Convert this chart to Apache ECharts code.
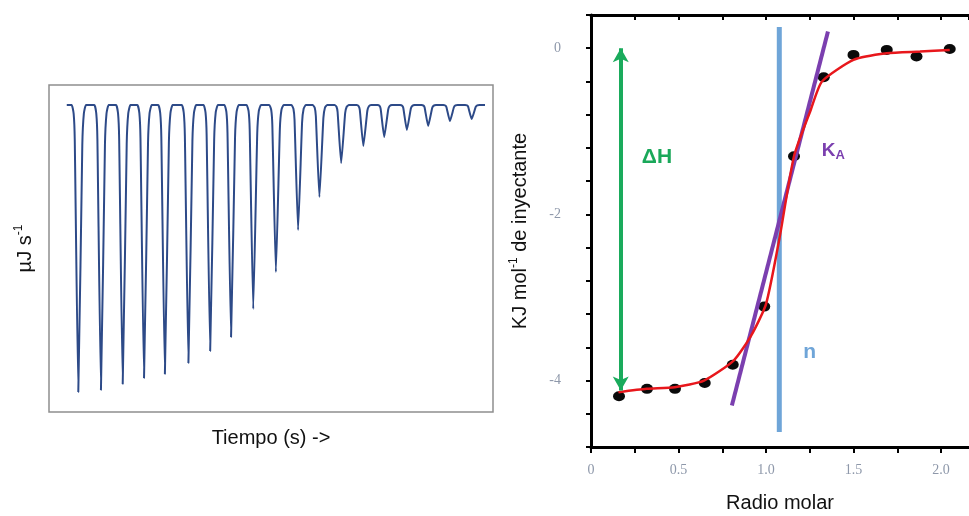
<!DOCTYPE html>
<html>
<head>
<meta charset="utf-8">
<script src="https://cdn.jsdelivr.net/npm/echarts@6/dist/echarts.min.js"></script>
<style>html,body{margin:0;padding:0;background:#fff}#c{width:969px;height:516px}</style>
</head>
<body>
<div id="c"></div>
<script>
// ---- Left panel: thermogram (arbitrary time units, µJ/s arbitrary) ----
var peakTimes  = [6.6, 11.7, 16.6, 21.4, 26.1, 31.4, 36.3, 41.0, 46.0, 51.1, 56.1, 60.9, 65.8, 70.8, 75.5, 80.6, 85.4, 90.3, 95.2];
var peakDepths = [-2.87, -2.85, -2.79, -2.73, -2.69, -2.58, -2.46, -2.32, -2.04, -1.67, -1.25, -0.92, -0.58, -0.41, -0.32, -0.25, -0.21, -0.16, -0.14];
var traceStart = 4.0, traceEnd = 98.2;

// ---- Right panel: binding isotherm ----
var molarRatio = [0.16, 0.32, 0.48, 0.65, 0.81, 0.99, 1.16, 1.33, 1.50, 1.69, 1.86, 2.05];
var heatPoints = [-4.19, -4.10, -4.10, -4.03, -3.81, -3.11, -1.30, -0.35, -0.08, -0.02, -0.10, -0.01];
var fitX = [0.157, 0.318, 0.479, 0.646, 0.815, 0.915, 1.0, 1.076, 1.16, 1.256, 1.32, 1.50, 1.69, 1.88, 2.05];
var fitY = [-4.14, -4.10, -4.08, -4.00, -3.76, -3.46, -3.08, -2.30, -1.30, -0.74, -0.40, -0.14, -0.06, -0.04, -0.02];
var slopeX = [0.805, 1.354];
var slopeY = [-4.30, 0.20];
var nX = [1.076, 1.076];
var nY = [0.255, -4.62];
var dHX = 0.17;
var dHY = [0.0, -4.12];
var xTicks = ['0', '0.5', '1.0', '1.5', '2.0'];
var yTicks = ['0', '-2', '-4'];
var annotations = [
  {text: '{g|ΔH}', x: 0.377, y: -1.31},
  {text: '{p|K}{ps|A}', x: 1.385, y: -1.24},
  {text: '{b|n}', x: 1.25, y: -3.66}
];

// build thermogram trace from peak positions/depths with a fixed spike shape
var shape = [[-1.5, 0], [-1.05, 0.03], [-0.8, 0.12], [0, 1], [0.9, 0.14], [1.25, 0.03], [1.75, 0]];
var trace = [[traceStart, 0]];
peakTimes.forEach(function (t, i) {
  shape.forEach(function (s) { trace.push([t + s[0], peakDepths[i] * s[1]]); });
});
trace.push([traceEnd, 0]);

var tickFont = {color: '#8e98aa', fontFamily: 'Liberation Serif', fontSize: 14};
function near(v, list) {
  for (var i = 0; i < list.length; i++) if (Math.abs(v - parseFloat(list[i])) < 1e-6) return list[i];
  return null;
}

var chart = echarts.init(document.getElementById('c'), null, {renderer: 'canvas'});
chart.setOption({
  animation: false,
  backgroundColor: '#fff',
  grid: [
    {left: 49, top: 85, width: 444, height: 327, show: true, borderColor: '#8f8f8f', borderWidth: 1.5, backgroundColor: 'transparent'},
    {left: 591, top: 15, width: 378, height: 432, outerBoundsMode: 'none'}
  ],
  xAxis: [
    {gridIndex: 0, type: 'value', min: 0, max: 100, axisLine: {show: false}, axisTick: {show: false}, axisLabel: {show: false}, splitLine: {show: false},
     name: 'Tiempo (s) ->', nameLocation: 'middle', nameGap: 16, nameTextStyle: {fontFamily: 'Liberation Sans', fontSize: 20, color: '#111', verticalAlign: 'top'}},
    {gridIndex: 1, type: 'value', min: 0, max: 2.16, interval: 0.25, position: 'bottom',
     axisLine: {onZero: false, lineStyle: {color: '#000', width: 3}},
     axisTick: {inside: false, length: 6, lineStyle: {color: '#000', width: 2}},
     axisLabel: Object.assign({margin: 16, showMaxLabel: false, formatter: function (v) { var s = near(v, xTicks); return s === null ? '' : s; }}, tickFont),
     splitLine: {show: false},
     name: 'Radio molar', nameLocation: 'middle', nameGap: 46, nameTextStyle: {fontFamily: 'Liberation Sans', fontSize: 20, color: '#111', verticalAlign: 'top', padding: [0, 0, 0, 0]}},
    {gridIndex: 1, type: 'value', min: 0, max: 2.16, interval: 0.25, position: 'top',
     axisLine: {onZero: false, lineStyle: {color: '#000', width: 3}},
     axisTick: {inside: true, length: 5, lineStyle: {color: '#000', width: 2}},
     axisLabel: {show: false}, splitLine: {show: false}}
  ],
  yAxis: [
    {gridIndex: 0, type: 'value', min: -3.07, max: 0.2, axisLine: {show: false}, axisTick: {show: false}, axisLabel: {show: false}, splitLine: {show: false},
     name: 'µJ s{sup|-1}', nameLocation: 'middle', nameGap: 12, nameRotate: 90,
     nameTextStyle: {fontFamily: 'Liberation Sans', fontSize: 20, color: '#111', lineHeight: 24, verticalAlign: 'bottom',
       rich: {sup: {fontFamily: 'Liberation Sans', fontSize: 12, lineHeight: 12, verticalAlign: 'top', color: '#111'}}}},
    {gridIndex: 1, type: 'value', min: -4.8, max: 0.4, interval: 0.4,
     axisLine: {onZero: false, lineStyle: {color: '#000', width: 3}},
     axisTick: {inside: false, length: 5, lineStyle: {color: '#000', width: 2}},
     axisLabel: Object.assign({margin: 30, formatter: function (v) { var s = near(v, yTicks); return s === null ? '' : s; }}, tickFont),
     splitLine: {show: false},
     name: 'KJ mol{sup|-1} de inyectante', nameLocation: 'middle', nameGap: 59, nameRotate: 90,
     nameTextStyle: {fontFamily: 'Liberation Sans', fontSize: 20, color: '#111', lineHeight: 24, verticalAlign: 'bottom',
       rich: {sup: {fontFamily: 'Liberation Sans', fontSize: 12, lineHeight: 12, verticalAlign: 'top', color: '#111'}}}}
  ],
  series: [
    {type: 'line', xAxisIndex: 0, yAxisIndex: 0, data: trace, showSymbol: false, symbol: 'none', smooth: 0.15,
     lineStyle: {color: '#2d4a88', width: 2}},
    {type: 'line', xAxisIndex: 1, yAxisIndex: 1, data: nX.map(function (x, i) { return [x, nY[i]]; }), symbol: 'none',
     lineStyle: {color: '#6fa5d8', width: 5}},
    {type: 'line', xAxisIndex: 1, yAxisIndex: 1, data: slopeX.map(function (x, i) { return [x, slopeY[i]]; }), symbol: 'none',
     lineStyle: {color: '#7b3faf', width: 4}},
    {type: 'line', xAxisIndex: 1, yAxisIndex: 1, data: fitX.map(function (x, i) { return [x, fitY[i]]; }), symbol: 'none', smooth: 0.2,
     lineStyle: {color: '#e8171c', width: 2.5}, z: 3},
    {type: 'scatter', xAxisIndex: 1, yAxisIndex: 1, data: molarRatio.map(function (x, i) { return [x, heatPoints[i]]; }),
     symbol: 'circle', symbolSize: [12, 10], itemStyle: {color: '#0a0a0a', opacity: 1}, z: 2,
     markLine: {silent: true, symbol: ['arrow', 'arrow'], symbolSize: [12, 14], label: {show: false},
       lineStyle: {color: '#1aab5c', width: 4, type: 'solid', opacity: 1},
       data: [[{coord: [dHX, dHY[0]]}, {coord: [dHX, dHY[1]]}]]}},
    {type: 'scatter', xAxisIndex: 1, yAxisIndex: 1, symbolSize: 0, silent: true, itemStyle: {opacity: 1},
     data: annotations.map(function (a) { return {value: [a.x, a.y], name: a.text}; }),
     label: {show: true, position: 'inside', formatter: function (p) { return p.name; },
       rich: {
         g: {color: '#1aa85a', fontFamily: 'Liberation Sans', fontWeight: 'bold', fontSize: 21},
         p: {color: '#7b3faf', fontFamily: 'Liberation Sans', fontWeight: 'bold', fontSize: 19, lineHeight: 22},
         ps: {color: '#7b3faf', fontFamily: 'Liberation Sans', fontWeight: 'bold', fontSize: 13, lineHeight: 13, verticalAlign: 'bottom', padding: [8, 0, 0, 0]},
         b: {color: '#6fa5d8', fontFamily: 'Liberation Sans', fontWeight: 'bold', fontSize: 21}
       }}}
  ]
});
</script>
</body>
</html>
